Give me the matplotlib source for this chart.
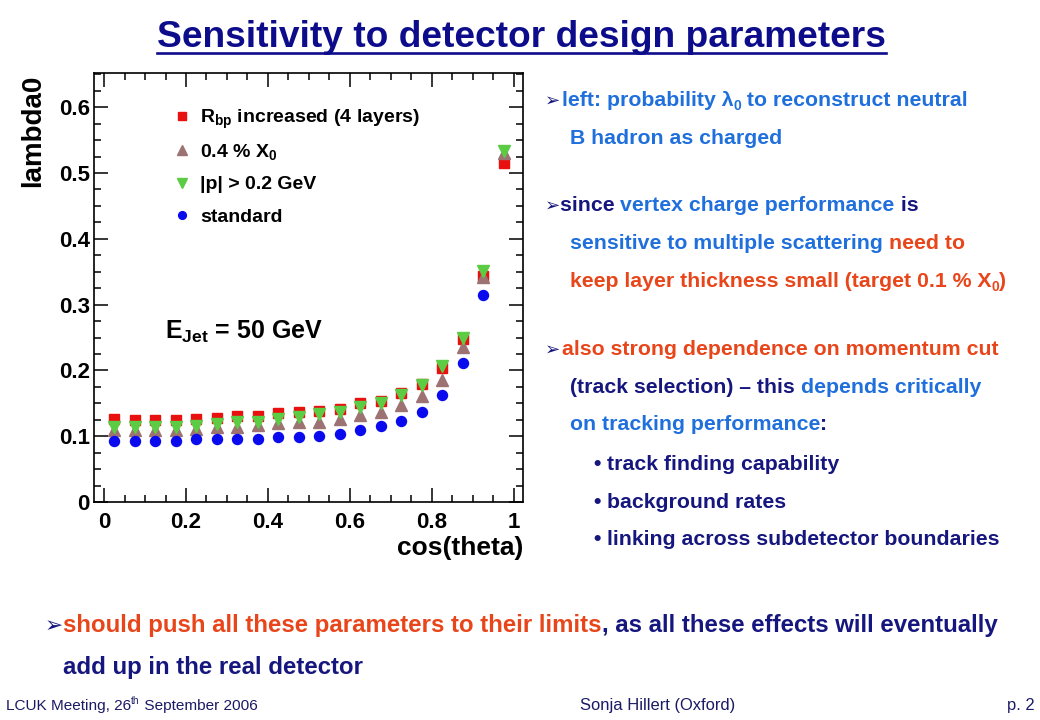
import numpy as np
import matplotlib
matplotlib.use("Agg")
import matplotlib.pyplot as plt
from matplotlib.lines import Line2D
from matplotlib.legend import Legend
from matplotlib.ticker import MultipleLocator, FixedLocator, FixedFormatter

# ---------------- data ----------------
cos_theta = [0.025, 0.075, 0.125, 0.175, 0.225, 0.275, 0.325, 0.375, 0.425, 0.475,
             0.525, 0.575, 0.625, 0.675, 0.725, 0.775, 0.825, 0.875, 0.925, 0.975]
lambda0_rbp = [0.126, 0.125, 0.125, 0.125, 0.126, 0.128, 0.130, 0.131, 0.135, 0.137,
               0.139, 0.142, 0.150, 0.154, 0.165, 0.179, 0.204, 0.248, 0.343, 0.515]
lambda0_x0 = [0.110, 0.110, 0.110, 0.110, 0.111, 0.114, 0.114, 0.117, 0.120, 0.121,
              0.122, 0.126, 0.132, 0.137, 0.147, 0.161, 0.185, 0.236, 0.342, 0.530]
lambda0_pcut = [0.114, 0.114, 0.114, 0.114, 0.116, 0.118, 0.121, 0.122, 0.126, 0.129,
                0.133, 0.137, 0.145, 0.151, 0.163, 0.178, 0.206, 0.249, 0.351, 0.534]
lambda0_std = [0.092, 0.093, 0.093, 0.093, 0.095, 0.095, 0.096, 0.096, 0.099, 0.099,
               0.101, 0.104, 0.110, 0.116, 0.123, 0.137, 0.162, 0.211, 0.315, np.nan]

series_labels = [r"R$_{bp}$ increased (4 layers)", r"0.4 % X$_0$",
                 "|p| > 0.2 GeV", "standard"]
x_ticks = [0, 0.2, 0.4, 0.6, 0.8, 1.0]
x_tick_labels = ["0", "0.2", "0.4", "0.6", "0.8", "1"]
y_ticks = [0, 0.1, 0.2, 0.3, 0.4, 0.5, 0.6]
y_tick_labels = ["0", "0.1", "0.2", "0.3", "0.4", "0.5", "0.6"]

# ---------------- style ----------------
FAM = ["Liberation Sans", "DejaVu Sans"]
plt.rcParams["font.family"] = FAM
plt.rcParams["font.weight"] = "bold"
plt.rcParams["axes.labelweight"] = "bold"
plt.rcParams["mathtext.default"] = "regular"

RED = "#e8110f"
BROWN = "#9c7272"
GREEN = "#5ccc44"
BLUE = "#0a0aee"
LB = "#1f6fdc"
NV = "#16167f"
RD = "#e8461a"
TITLE_C = "#0d0d8c"
FOOT_C = "#1a1a66"

W, H = 1040, 720
fig = plt.figure(figsize=(W / 100, H / 100), dpi=100)
fig.patch.set_facecolor("white")
renderer = fig.canvas.get_renderer()

# ---------------- plot ----------------
ax = fig.add_axes([94 / W, 1 - 502 / H, 429 / W, 429 / H])
ax.set_xlim(-0.0244, 1.022)
ax.set_ylim(0, 0.652)
for s in ax.spines.values():
    s.set_linewidth(1.2)

ax.plot(cos_theta, lambda0_rbp, ls="none", marker="s", ms=7.8, color=RED, mec=RED)
ax.plot(cos_theta, lambda0_x0, ls="none", marker="^", ms=8.5, color=BROWN, mec=BROWN)
ax.plot(cos_theta, lambda0_pcut, ls="none", marker="v", ms=8.5, color=GREEN, mec=GREEN)
ax.plot(cos_theta, lambda0_std, ls="none", marker="o", ms=7.2, color=BLUE, mec=BLUE)

ax.xaxis.set_major_locator(FixedLocator(x_ticks))
ax.xaxis.set_major_formatter(FixedFormatter(x_tick_labels))
ax.xaxis.set_minor_locator(MultipleLocator(0.05))
ax.yaxis.set_major_locator(FixedLocator(y_ticks))
ax.yaxis.set_major_formatter(FixedFormatter(y_tick_labels))
ax.yaxis.set_minor_locator(MultipleLocator(0.025))
ax.tick_params(which="both", direction="in", top=True, right=True, width=1.1)
ax.tick_params(which="major", length=10, labelsize=16)
ax.tick_params(which="minor", length=5)
ax.tick_params(axis="x", pad=7)
ax.tick_params(axis="y", pad=3)

ax.set_xlabel("cos(theta)", fontsize=19, loc="right")
ax.xaxis.set_label_coords(1.0, -0.08)
ax.set_ylabel("lambda0", fontsize=20, loc="top")
ax.yaxis.set_label_coords(-0.112, 0.996)

# legend: one entry per row, rows evenly spaced
handles = [
    Line2D([], [], ls="none", marker="s", ms=7.5, color=RED),
    Line2D([], [], ls="none", marker="^", ms=8.5, color=BROWN),
    Line2D([], [], ls="none", marker="v", ms=8.5, color=GREEN),
    Line2D([], [], ls="none", marker="o", ms=7, color=BLUE),
]
row_y = [0.893, 0.817, 0.740, 0.664]
for h, lab, yy in zip(handles, series_labels, row_y):
    lg = Legend(ax, [h], [lab], loc="center left", bbox_to_anchor=(0.186, yy),
                frameon=False, fontsize=14, handlelength=0.85, handletextpad=0.5,
                borderaxespad=0, borderpad=0, markerscale=0.8)
    ax.add_artist(lg)

ax.text(0.1655, 0.38, r"E$_{Jet}$ = 50 GeV", transform=ax.transAxes,
        fontsize=18, ha="left", va="baseline")

# ---------------- slide text helpers ----------------
PT = 100 / 72


def seg_width(txt, size, weight="bold", family=FAM):
    t = fig.text(0, 0, "|" + txt + "|", fontsize=size, weight=weight, family=family)
    w = t.get_window_extent(renderer).width
    t.set_text("||")
    w0 = t.get_window_extent(renderer).width
    t.remove()
    return w - w0


def seg_props(seg, size):
    txt, col = seg[0], seg[1]
    kind = seg[2] if len(seg) > 2 else "n"
    if kind == "sub":
        return txt, col, size * 0.65, -0.2 * size * PT
    if kind == "sup":
        return txt, col, size * 0.65, 0.38 * size * PT
    return txt, col, size, 0.0


def line_width(segs, size, weight="bold"):
    tot = 0.0
    for seg in segs:
        txt, col, s, dy = seg_props(seg, size)
        tot += seg_width(txt, s, weight)
    return tot


def draw_line(x, y, segs, size, weight="bold"):
    for seg in segs:
        txt, col, s, dy = seg_props(seg, size)
        fig.text(x / W, 1 - (y - dy) / H, txt, fontsize=s, weight=weight,
                 color=col, ha="left", va="baseline", family=FAM)
        x += seg_width(txt, s, weight)
    return x


def fit_size(segs, target, size0, weight="bold"):
    return size0 * target / line_width(segs, size0, weight)


# ---------------- title ----------------
title_segs = [("Sensitivity to detector design parameters", TITLE_C)]
ts = fit_size(title_segs, 729, 22)
tw = line_width(title_segs, ts)
tx0 = 521.5 - tw / 2
draw_line(tx0, 47, title_segs, ts)
fig.add_artist(Line2D([tx0 / W, (tx0 + tw) / W], [1 - 53 / H, 1 - 53 / H],
                      color=TITLE_C, lw=1.9, transform=fig.transFigure))

# ---------------- right-hand text ----------------
right_lines = [
    (562, 106, [("left: probability \u03bb", LB), ("0", LB, "sub"), (" to reconstruct neutral", LB)]),
    (570, 144, [("B hadron as charged", LB)]),
    (560, 211, [("since ", NV), ("vertex charge performance", LB), (" is", NV)]),
    (570, 249, [("sensitive to multiple scattering ", LB), ("need to", RD)]),
    (570, 287, [("keep layer thickness small (target 0.1 % X", RD), ("0", RD, "sub"), (")", RD)]),
    (562, 355, [("also strong dependence on momentum cut", RD)]),
    (570, 393, [("(track selection) \u2013 this ", NV), ("depends critically", LB)]),
    (570, 430, [("on tracking performance", LB), (":", NV)]),
    (607, 470, [("track finding capability", NV)]),
    (607, 508, [("background rates", NV)]),
    (607, 545, [("linking across subdetector boundaries", NV)]),
]
rs = fit_size(right_lines[4][2], 435, 13.5)
for x, y, segs in right_lines:
    draw_line(x, y, segs, rs)
for y in (106, 211, 355):
    fig.text(545 / W, 1 - y / H, "\u27a2", fontsize=rs * 0.85, color=NV,
             family=["DejaVu Sans"], ha="left", va="baseline")
for y in (470, 508, 545):
    fig.text(593 / W, 1 - y / H, "\u2022", fontsize=rs, color=NV,
             ha="left", va="baseline")

# ---------------- bottom text ----------------
bottom_lines = [
    (63, 632, [("should push all these parameters to their limits", RD),
               (", as all these effects will eventually", NV)]),
    (63, 674, [("add up in the real detector", NV)]),
]
bs = fit_size(bottom_lines[0][2], 932, 16)
for x, y, segs in bottom_lines:
    draw_line(x, y, segs, bs)
fig.text(45 / W, 1 - 632 / H, "\u27a2", fontsize=bs * 0.9, color=NV,
         family=["DejaVu Sans"], ha="left", va="baseline")

# ---------------- footer ----------------
foot_left = [("LCUK Meeting, 26", FOOT_C), ("th", FOOT_C, "sup"), (" September 2006", FOOT_C)]
foot_mid = [("Sonja Hillert (Oxford)", FOOT_C)]
foot_right = [("p. 2", FOOT_C)]
fs_left = fit_size(foot_left, 252, 9.5, weight="normal")
fs_mid = fit_size(foot_mid, 155, 9.5, weight="normal")
draw_line(6, 710, foot_left, fs_left, "normal")
draw_line(580, 710, foot_mid, fs_mid, "normal")
draw_line(1035 - line_width(foot_right, fs_mid, "normal"), 710, foot_right, fs_mid, "normal")

fig.savefig("out.png", dpi=100, facecolor="white")
